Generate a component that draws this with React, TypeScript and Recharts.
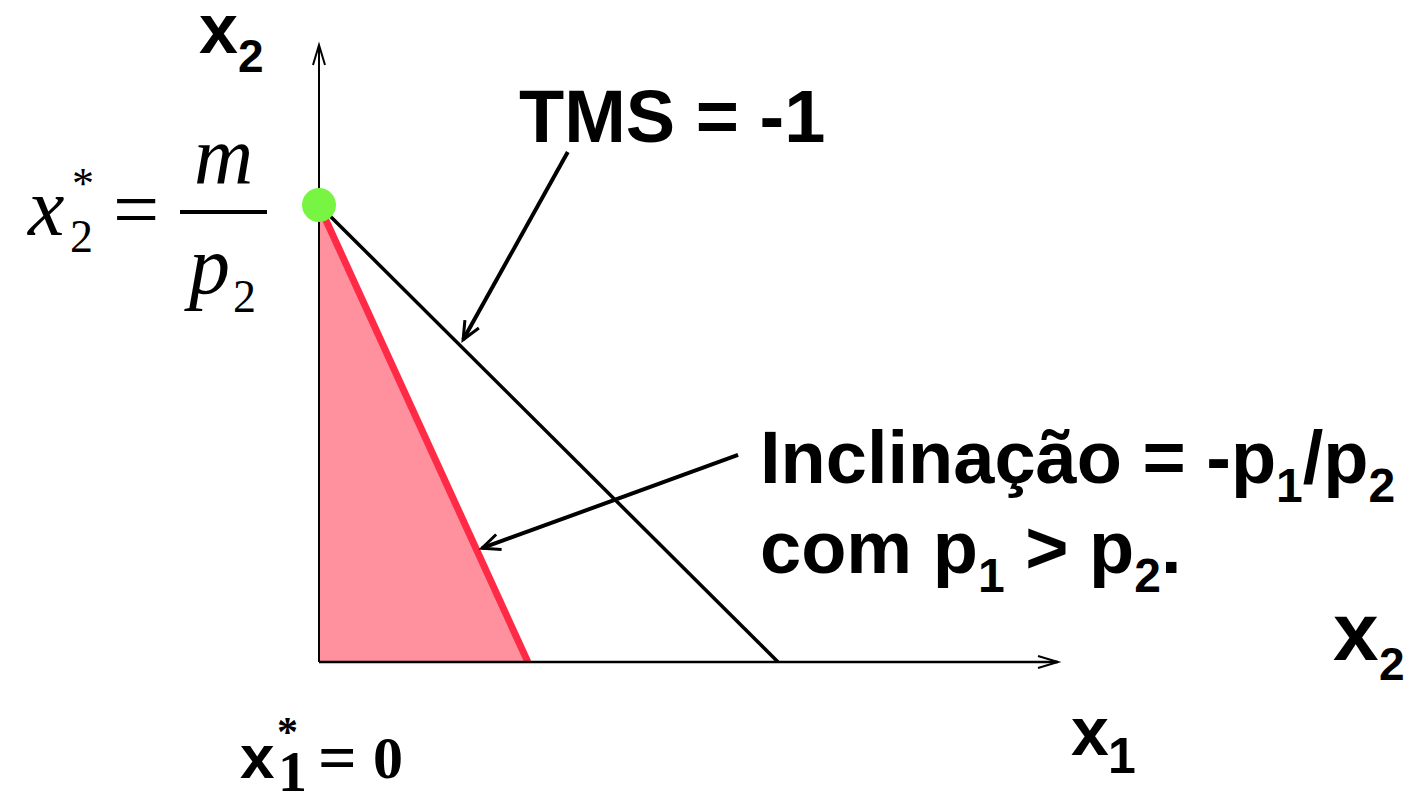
import React from "react";
import {
  Area,
  ComposedChart,
  Line,
  ReferenceDot,
  ReferenceLine,
  XAxis,
  YAxis,
} from "recharts";

const W = 1418;
const H = 796;

// budget lines (x1, x2)
const redBudget = [
  { x1: 0, x2: 10 },
  { x1: 4.55, x2: 0 },
];
const tmsBudget = [
  { x1: 0, x2: 10 },
  { x1: 10, x2: 0 },
];
const optimum = { x1: 0, x2: 10 };
const xMax = 16.1;
const yMax = 13.5;

// annotation arrows, start -> tip
const tmsArrow = [
  { x: 5.42, y: 11.16 },
  { x: 3.14, y: 7.05 },
];
const slopeArrow = [
  { x: 9.13, y: 4.53 },
  { x: 3.55, y: 2.49 },
];

const sans = '"Liberation Sans", Arial, sans-serif';
const serif = '"Liberation Serif", "Times New Roman", serif';

function arrow(width: number, len: number, half: number, headWidth: number) {
  return (p: any) => {
    const { x1, y1, x2, y2 } = p;
    const a = Math.atan2(y2 - y1, x2 - x1);
    const bx = x2 - len * Math.cos(a);
    const by = y2 - len * Math.sin(a);
    const nx = -Math.sin(a) * half;
    const ny = Math.cos(a) * half;
    return (
      <g>
        <line x1={x1} y1={y1} x2={x2} y2={y2} stroke="#000" strokeWidth={width} />
        <polyline
          points={`${bx + nx},${by + ny} ${x2},${y2} ${bx - nx},${by - ny}`}
          fill="none"
          stroke="#000"
          strokeWidth={headWidth}
        />
      </g>
    );
  };
}

function Labels() {
  return (
    <svg
      width={W}
      height={H}
      style={{ position: "absolute", left: 0, top: 0, pointerEvents: "none" }}
    >
      <g fontFamily={sans} fontWeight="bold" fill="#000">
        <text x={199} y={53} fontSize={70}>x</text>
        <text x={238} y={72} fontSize={46}>2</text>

        <text x={519} y={142} fontSize={74}>TMS = -1</text>

        <text x={760} y={483} fontSize={74}>
          Inclinação = -p
          <tspan fontSize={48} dy={19}>1</tspan>
          <tspan dy={-19}>/p</tspan>
          <tspan fontSize={48} dy={19}>2</tspan>
        </text>
        <text x={760} y={573} fontSize={74}>
          com p
          <tspan fontSize={48} dy={19}>1</tspan>
          <tspan dy={-19}> &gt; p</tspan>
          <tspan fontSize={48} dy={19}>2</tspan>
          <tspan dy={-19}>.</tspan>
        </text>

        <text x={1333} y={660} fontSize={82}>x</text>
        <text x={1379} y={680} fontSize={46}>2</text>

        <text x={1071} y={755} fontSize={68}>x</text>
        <text x={1108} y={773} fontSize={50}>1</text>

        <text x={240} y={778} fontSize={62}>x</text>
      </g>

      <g fontFamily={serif} fill="#000">
        <text x={28} y={235} fontSize={82} fontStyle="italic">x</text>
        <text x={70} y={252} fontSize={46}>2</text>
        <text x={72} y={198} fontSize={44}>*</text>
        <text x={113} y={237} fontSize={82}>=</text>
        <text x={194} y={183} fontSize={82} fontStyle="italic">m</text>
        <line x1={180} y1={212} x2={267} y2={212} stroke="#000" strokeWidth={4} />
        <text x={189} y={293} fontSize={82} fontStyle="italic">p</text>
        <text x={233} y={312} fontSize={46}>2</text>
      </g>

      <g fontFamily={serif} fontWeight="bold" fill="#000">
        <text x={278} y={791} fontSize={58}>1</text>
        <text x={277} y={746} fontSize={42}>*</text>
        <text x={318} y={780} fontSize={68}>=</text>
        <text x={373} y={778} fontSize={60}>0</text>
      </g>
    </svg>
  );
}

export default function App() {
  return (
    <div style={{ position: "absolute", left: 0, top: 0, width: W, height: H, background: "#fff" }}>
      <ComposedChart
        width={W}
        height={H}
        margin={{ top: 45, right: 360, bottom: 134, left: 319 }}
      >
        <XAxis
          type="number"
          dataKey="x1"
          domain={[0, xMax]}
          allowDataOverflow
          hide
        />
        <YAxis
          type="number"
          dataKey="x2"
          domain={[0, yMax]}
          allowDataOverflow
          hide
        />
        <Area
          data={redBudget}
          dataKey="x2"
          type="linear"
          stroke="none"
          fill="#ff919e"
          fillOpacity={1}
          baseValue={0}
          isAnimationActive={false}
        />
        <Line
          data={tmsBudget}
          dataKey="x2"
          type="linear"
          stroke="#000"
          strokeWidth={3.5}
          dot={false}
          isAnimationActive={false}
        />
        <Line
          data={redBudget}
          dataKey="x2"
          type="linear"
          stroke="#ff2a46"
          strokeWidth={7}
          dot={false}
          isAnimationActive={false}
        />
        <ReferenceLine
          segment={[{ x: 0, y: 0 }, { x: xMax, y: 0 }]}
          ifOverflow="visible"
          shape={arrow(2.5, 20, 6, 2)}
        />
        <ReferenceLine
          segment={[{ x: 0, y: 0 }, { x: 0, y: yMax }]}
          ifOverflow="visible"
          shape={arrow(2, 20, 6, 2)}
        />
        <ReferenceLine
          segment={tmsArrow}
          ifOverflow="visible"
          shape={arrow(4, 18, 8, 3)}
        />
        <ReferenceLine
          segment={slopeArrow}
          ifOverflow="visible"
          shape={arrow(4, 18, 8, 3)}
        />
        <ReferenceDot
          x={optimum.x1}
          y={optimum.x2}
          r={17}
          fill="#77f542"
          stroke="none"
          ifOverflow="visible"
        />
      </ComposedChart>
      <Labels />
    </div>
  );
}
